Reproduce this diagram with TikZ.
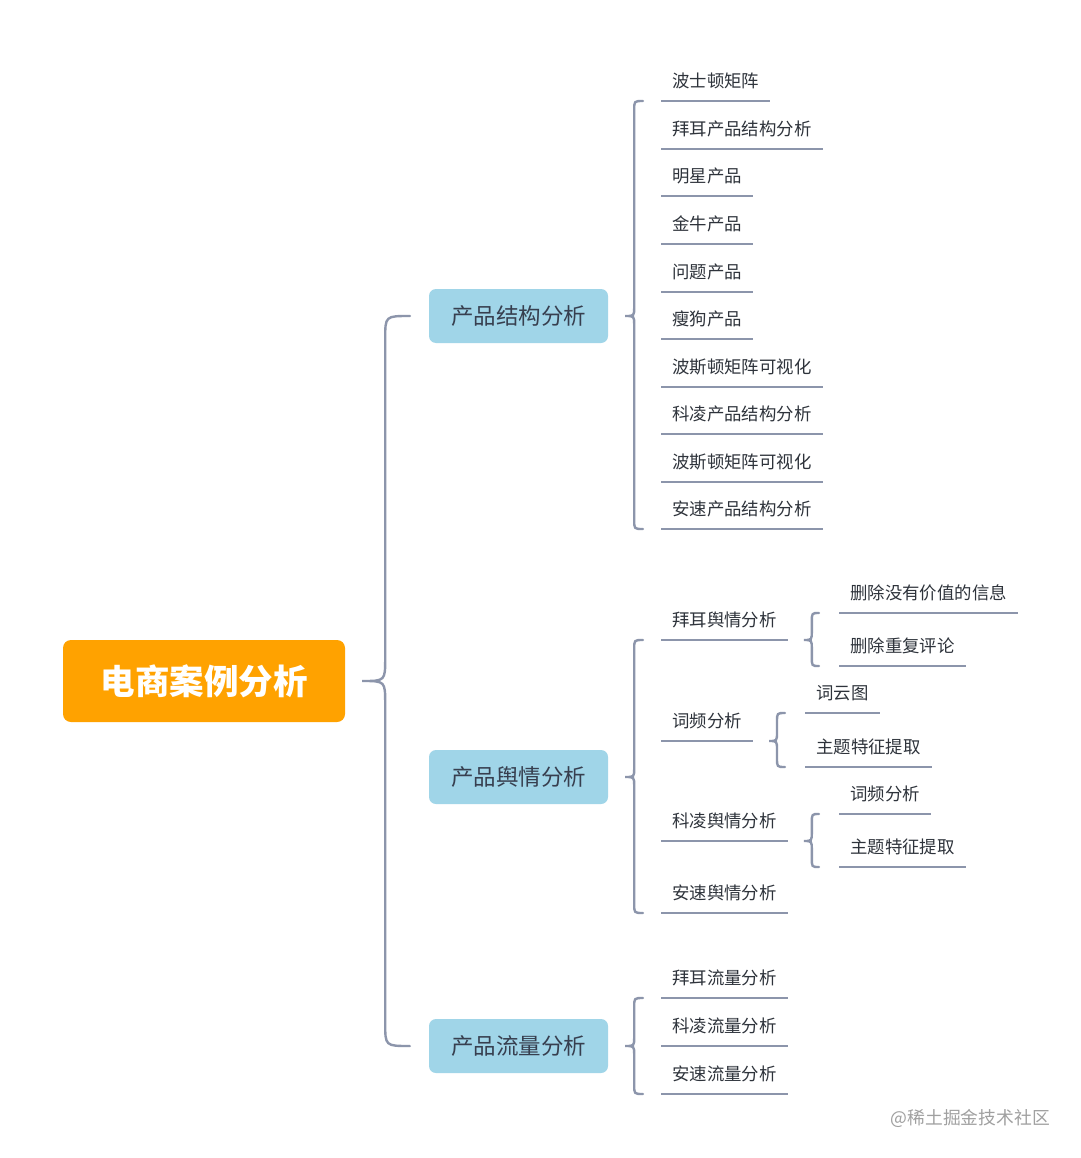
\documentclass[tikz,border=0pt]{standalone}
\usepackage{fontspec}
\setmainfont{Noto Sans CJK SC}
\usetikzlibrary{calc}
\definecolor{rootc}{HTML}{FFA200}
\definecolor{lonec}{HTML}{A0D5E8}
\definecolor{lonet}{HTML}{373F4F}
\definecolor{leaft}{HTML}{2E333B}
\definecolor{linec}{HTML}{8C95AB}
\definecolor{wmc}{HTML}{A0A0A0}
\newcommand\bracelink[5]{%
  \draw[conn] let \p1=(#1), \p2=(#2), \p3=(#3) in
    (\x2,\y2) .. controls (\x1+#4,\y2) .. (\x1+#4,\y2-#5)
    -- (\x1+#4,\y1+#5) .. controls (\x1+#4,\y1) .. (\x1,\y1)
    .. controls (\x1+#4,\y1) .. (\x1+#4,\y1-#5)
    -- (\x1+#4,\y3+#5) .. controls (\x1+#4,\y3) .. (\x3,\y3);}
\tikzset{
  rootbox/.style={fill=rootc, rounded corners=8pt, text=white,
    font=\fontsize{34.5}{40}\selectfont\bfseries, minimum width=282pt, minimum height=82pt, inner sep=0pt},
  lonebox/.style={fill=lonec, rounded corners=7pt, text=lonet,
    font=\fontsize{22.5}{26}\selectfont, minimum width=179pt, minimum height=54pt, inner sep=0pt},
  leaf/.style={anchor=south west, inner xsep=11pt, inner ysep=10pt, text height=14pt, text depth=3pt,
    font=\fontsize{17.4}{20}\selectfont, text=leaft},
  conn/.style={draw=linec, line width=2.4pt, line cap=round},
  uline/.style={draw=linec, line width=2.4pt}
}
\begin{document}
\begin{tikzpicture}[x=1pt,y=-1pt]
\useasboundingbox (0,0) rectangle (1080,1158);
\fill[white] (0,0) rectangle (1080,1158);
% main nodes
\node[rootbox] (root) at (204,681) {电商案例分析};
\node[lonebox] (b1) at (518.5,316) {产品结构分析};
\node[lonebox] (b2) at (518.5,777) {产品舆情分析};
\node[lonebox] (b3) at (518.5,1046) {产品流量分析};
% group 1
\node[leaf] (g1a) at (661,101) {波士顿矩阵};
\node[leaf] (g1b) at (661,149) {拜耳产品结构分析};
\node[leaf] (g1c) at (661,196) {明星产品};
\node[leaf] (g1d) at (661,244) {金牛产品};
\node[leaf] (g1e) at (661,292) {问题产品};
\node[leaf] (g1f) at (661,339) {瘦狗产品};
\node[leaf] (g1g) at (661,387) {波斯顿矩阵可视化};
\node[leaf] (g1h) at (661,434) {科凌产品结构分析};
\node[leaf] (g1i) at (661,482) {波斯顿矩阵可视化};
\node[leaf] (g1j) at (661,529) {安速产品结构分析};
% group 2
\node[leaf] (s1) at (661,640) {拜耳舆情分析};
\node[leaf] (s2) at (661,741) {词频分析};
\node[leaf] (s3) at (661,841) {科凌舆情分析};
\node[leaf] (s4) at (661,913) {安速舆情分析};
\node[leaf] (s1a) at (839,613) {删除没有价值的信息};
\node[leaf] (s1b) at (839,666) {删除重复评论};
\node[leaf] (s2a) at (805,713) {词云图};
\node[leaf] (s2b) at (805,767) {主题特征提取};
\node[leaf] (s3a) at (839,814) {词频分析};
\node[leaf] (s3b) at (839,867) {主题特征提取};
% group 3
\node[leaf] (f1) at (661,998) {拜耳流量分析};
\node[leaf] (f2) at (661,1046) {科凌流量分析};
\node[leaf] (f3) at (661,1094) {安速流量分析};
% underlines
\foreach \n in {g1a,g1b,g1c,g1d,g1e,g1f,g1g,g1h,g1i,g1j,s1,s2,s3,s4,s1a,s1b,s2a,s2b,s3a,s3b,f1,f2,f3}
  \draw[uline] (\n.south west) -- (\n.south east);
% brace tips and ends
\coordinate (tr) at ($(root.east)+(17,0)$);
\coordinate (er1) at ($(b1.west)+(-19,0)$);
\coordinate (er3) at ($(b3.west)+(-19,0)$);
\bracelink{tr}{er1}{er3}{23pt}{23pt}
\coordinate (t1) at ($(b1.east)+(17,0)$);
\coordinate (e1a) at ($(g1a.south west)+(-18,0)$);
\coordinate (e1b) at ($(g1j.south west)+(-18,0)$);
\bracelink{t1}{e1a}{e1b}{9pt}{9pt}
\coordinate (t2) at ($(b2.east)+(17,0)$);
\coordinate (e2a) at ($(s1.south west)+(-18,0)$);
\coordinate (e2b) at ($(s4.south west)+(-18,0)$);
\bracelink{t2}{e2a}{e2b}{9pt}{9pt}
\coordinate (t3) at ($(b3.east)+(17,0)$);
\coordinate (e3a) at ($(f1.south west)+(-18,0)$);
\coordinate (e3b) at ($(f3.south west)+(-18,0)$);
\bracelink{t3}{e3a}{e3b}{9pt}{9pt}
\coordinate (ts1) at ($(s1.south east)+(16,0)$);
\coordinate (es1a) at ($(s1a.south west)+(-20,0)$);
\coordinate (es1b) at ($(s1b.south west)+(-20,0)$);
\bracelink{ts1}{es1a}{es1b}{8pt}{9pt}
\coordinate (ts2) at ($(s2.south east)+(16,0)$);
\coordinate (es2a) at ($(s2a.south west)+(-20,0)$);
\coordinate (es2b) at ($(s2b.south west)+(-20,0)$);
\bracelink{ts2}{es2a}{es2b}{8pt}{9pt}
\coordinate (ts3) at ($(s3.south east)+(16,0)$);
\coordinate (es3a) at ($(s3a.south west)+(-20,0)$);
\coordinate (es3b) at ($(s3b.south west)+(-20,0)$);
\bracelink{ts3}{es3a}{es3b}{8pt}{9pt}
% watermark
\node[anchor=east, text=wmc, font=\fontsize{17.8}{20}\selectfont, inner sep=0pt] (wm) at (1050,1118) {@稀土掘金技术社区};
\end{tikzpicture}
\end{document}
